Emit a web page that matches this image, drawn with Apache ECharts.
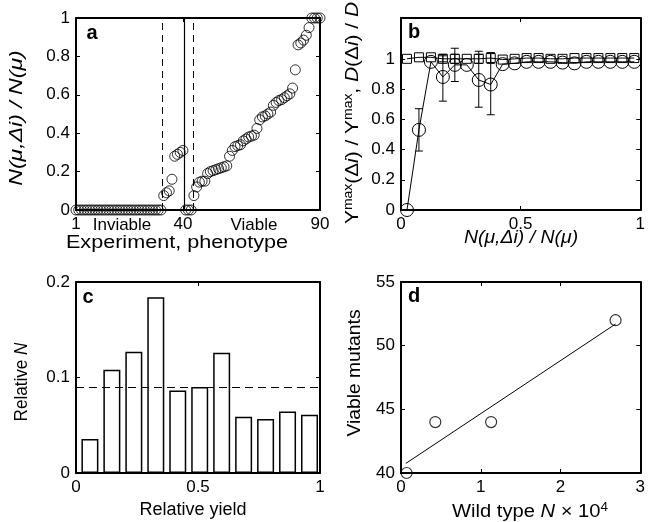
<!DOCTYPE html>
<html><head><meta charset="utf-8">
<script src="https://cdn.jsdelivr.net/npm/echarts@6/dist/echarts.min.js"></script>
<style>html,body{margin:0;padding:0;background:#fff}#c{width:648px;height:522px}</style>
</head><body><div id="c"></div>
<script>
const FONT = "'Liberation Sans', Arial, Helvetica, sans-serif";

// ---------- Panel a: N(mu,Δi)/N(mu) per experiment (sorted) ----------
const aInviable = [0,0,0,0,0,0,0,0,0,0,0,0,0,0,0,0,0,0,0,0,0,0,0,0,0,0,0,0,0,0,0,0]; // experiments 1-32
const aLow = [0.075,0.09,0.10,0.16,0.28,0.29,0.30,0.31];                                // experiments 33-40
const aZeroMid = [0,0,0];                                                               // experiments 41-43
const aViable = [0.075,0.12,0.145,0.15,0.15,0.19,0.20,0.205,0.21,0.215,0.22,0.225,0.23,0.28,0.31,0.33,
  0.335,0.34,0.36,0.37,0.38,0.385,0.39,0.425,0.47,0.485,0.49,0.50,0.51,0.545,0.56,0.57,0.575,0.585,
  0.595,0.605,0.635,0.73,0.86,0.87,0.885,0.91,0.95,1.0,1.0,1.0,1.0];                     // experiments 44-90
const aXTicks = [1, 40, 90];
const aDashedLines = [32.6, 43.6];
const aSolidLine = [40.5];

// ---------- Panel b ----------
const bX = [0.025,0.075,0.125,0.175,0.225,0.275,0.325,0.375,0.425,0.475,0.525,0.575,0.625,0.675,0.725,0.775,0.825,0.875,0.925,0.975];
const bYield = [0,0.53,0.98,0.88,0.96,0.96,0.86,0.83,0.965,0.97,0.98,0.98,0.98,0.975,0.97,0.98,0.98,0.98,0.98,0.98];
const bYieldLo = [null,0.39,null,0.72,0.85,null,0.68,0.63,null,null,null,null,null,null,null,null,null,null,null,null];
const bYieldHi = [null,0.67,null,1.03,1.07,null,1.05,1.04,null,null,null,null,null,null,null,null,null,null,null,null];
const bDiv = [1.0,1.01,1.01,1.0,1.0,1.0,1.0,1.005,0.995,1.0,1.005,1.005,1.0,1.0,1.005,1.005,1.005,1.005,1.005,1.005];
const bDivLo = [null,null,null,0.98,0.97,null,0.97,0.97,null,null,null,null,null,null,null,null,null,null,null,null];
const bDivHi = [null,null,null,1.02,1.03,null,1.03,1.04,null,null,null,null,null,null,null,null,null,null,null,null];
const bYTicks = [0,0.2,0.4,0.6,0.8,1];

// ---------- Panel c ----------
const cCenters = [0.057,0.147,0.237,0.327,0.417,0.507,0.597,0.687,0.777,0.867,0.957];
const cHeights = [0.0355,0.108,0.127,0.184,0.0865,0.090,0.126,0.059,0.0565,0.0645,0.061];
const cUniform = [0.0909];

// ---------- Panel d ----------
const dWild = [0.07,0.43,1.13,2.69];
const dViable = [40,44,44,52];
const dFitX = [0.06,2.69];
const dFitY = [40.75,51.7];

// ---------- build ----------
const aValues = [].concat(aInviable, aLow, aZeroMid, aViable);
const aData = aValues.map((v,i)=>[i+1, v]);
const CLEAR = 'rgba(0,0,0,0)';

const axLine = {show:true, onZero:false, lineStyle:{color:'#000', width:2}};
const axTick = {show:true, inside:true, length:4, lineStyle:{color:'#000', width:1}};
const axLabel = {color:'#000', fontSize:17, fontFamily:FONT, margin:6};
function ax(gi, pos, min, max, extra, showLabel){
  const o = {type:'value', gridIndex:gi, position:pos, min:min, max:max,
    axisLine:axLine, axisTick:Object.assign({}, axTick),
    axisLabel:Object.assign({}, axLabel, {show:showLabel}),
    splitLine:{show:false}};
  if (extra) {
    if (extra.interval!==undefined) o.interval = extra.interval;
    if (extra.custom) { o.axisLabel.customValues = extra.custom; o.axisTick.customValues = extra.custom; }
  }
  return o;
}

const grids = [
  {left:76, top:18, width:244, height:192},
  {left:401, top:18, width:244, height:192},
  {left:76, top:282, width:244, height:191},
  {left:401, top:282, width:244, height:191}
];
const xAxes = [
  ax(0,'bottom',1,90,{custom:aXTicks},true),
  ax(1,'bottom',0,1,{interval:0.5},true),
  ax(2,'bottom',0,1,{interval:0.5},true),
  ax(3,'bottom',0,3,{interval:1},true),
  ax(0,'top',1,90,{custom:aXTicks},false),
  ax(1,'top',0,1,{interval:0.5},false),
  ax(2,'top',0,1,{interval:0.5},false),
  ax(3,'top',0,3,{interval:1},false)
];
const yAxes = [
  ax(0,'left',0,1,{interval:0.2},true),
  ax(1,'left',0,1.27,{custom:bYTicks},true),
  ax(2,'left',0,0.2,{interval:0.1},true),
  ax(3,'left',40,55,{interval:5},true),
  ax(0,'right',0,1,{interval:0.2},false),
  ax(1,'right',0,1.27,{custom:bYTicks},false),
  ax(2,'right',0,0.2,{interval:0.1},false),
  ax(3,'right',40,55,{interval:5},false)
];

function errRender(params, api){
  const x = api.value(0), lo = api.value(1), hi = api.value(2);
  const p1 = api.coord([x, lo]), p2 = api.coord([x, hi]);
  const w = 4, st = {stroke:'#000', lineWidth:1};
  return {type:'group', children:[
    {type:'line', shape:{x1:p1[0],y1:p1[1],x2:p2[0],y2:p2[1]}, style:st},
    {type:'line', shape:{x1:p1[0]-w,y1:p1[1],x2:p1[0]+w,y2:p1[1]}, style:st},
    {type:'line', shape:{x1:p2[0]-w,y1:p2[1],x2:p2[0]+w,y2:p2[1]}, style:st}
  ]};
}
function errData(xs, lo, hi){
  const out = [];
  xs.forEach((x,i)=>{ if (lo[i]!==null) out.push([x, lo[i], hi[i]]); });
  return out;
}

const series = [
  {type:'scatter', xAxisIndex:0, yAxisIndex:0, data:aData, symbol:'circle', symbolSize:10, clip:false,
   itemStyle:{color:CLEAR, borderColor:'#000', borderWidth:1},
   markLine:{silent:true, symbol:'none', label:{show:false},
     data:[
       {xAxis:aDashedLines[0], lineStyle:{type:[7,5], color:'#000', width:1}},
       {xAxis:aSolidLine[0], lineStyle:{type:'solid', color:'#000', width:1.2}},
       {xAxis:aDashedLines[1], lineStyle:{type:[7,5], color:'#000', width:1}}
     ]}},
  {type:'custom', xAxisIndex:1, yAxisIndex:1, renderItem:errRender, encode:{x:0, y:[1,2]}, data:errData(bX,bYieldLo,bYieldHi), clip:false, z:3},
  {type:'custom', xAxisIndex:1, yAxisIndex:1, renderItem:errRender, encode:{x:0, y:[1,2]}, data:errData(bX,bDivLo,bDivHi), clip:false, z:3},
  {type:'line', xAxisIndex:1, yAxisIndex:1, data:bX.map((x,i)=>[x,bDiv[i]]), symbol:'rect', symbolSize:9, clip:false,
   lineStyle:{color:'#000', width:1}, itemStyle:{color:CLEAR, borderColor:'#000', borderWidth:1}, z:4},
  {type:'line', xAxisIndex:1, yAxisIndex:1, data:bX.map((x,i)=>[x,bYield[i]]), symbol:'circle', symbolSize:13, clip:false,
   lineStyle:{color:'#000', width:1}, itemStyle:{color:CLEAR, borderColor:'#000', borderWidth:1}, z:5},
  {type:'bar', xAxisIndex:2, yAxisIndex:2, data:cCenters.map((x,i)=>[x,cHeights[i]]), barWidth:17,
   itemStyle:{color:'#fff', borderColor:'#000', borderWidth:1.5},
   markLine:{silent:true, symbol:'none', label:{show:false},
     data:[{yAxis:cUniform[0], lineStyle:{type:[8,5], color:'#000', width:1.2}}]}},
  {type:'line', xAxisIndex:3, yAxisIndex:3, data:dFitX.map((x,i)=>[x,dFitY[i]]), symbol:'none',
   lineStyle:{color:'#000', width:1}},
  {type:'scatter', xAxisIndex:3, yAxisIndex:3, data:dWild.map((x,i)=>[x,dViable[i]]), symbol:'circle', symbolSize:11, clip:false,
   itemStyle:{color:CLEAR, borderColor:'#000', borderWidth:1.2}, z:5}
];

const NS = 18;
function t(text, x, y, opts){
  opts = opts || {};
  const sz = opts.size||NS;
  const base = {fontSize:sz, fontFamily:FONT, fill:'#000', fontStyle:opts.italic?'italic':'normal', fontWeight:opts.bold?'bold':'normal'};
  const rich = {
    it:{fontSize:sz, fontFamily:FONT, fontStyle:'italic', fill:'#000'},
    n:{fontSize:sz, fontFamily:FONT, fontStyle:'normal', fill:'#000'},
    sup:{fontSize:12, fontFamily:FONT, fontStyle:'normal', fill:'#000', verticalAlign:'top', padding:[0,0,9,0]}
  };
  return {type:'text', x:x, y:y, rotation:opts.rot?Math.PI/2:0, scaleX:opts.sx||1, silent:true, z:100,
    style:Object.assign({text:text, align:'center', verticalAlign:'middle', rich:rich}, base)};
}
const graphics = [
  t('a', 92, 33, {bold:true, size:20}),
  t('b', 414, 32, {bold:true, size:20}),
  t('c', 88, 297, {bold:true, size:20}),
  t('d', 414, 296, {bold:true, size:20}),
  t('N(μ,Δi) / N(μ)', 17, 118, {rot:true, italic:true, sx:1.28}),
  t('Experiment, phenotype', 177, 243, {sx:1.2}),
  t('Inviable', 122, 225, {size:17}),
  t('Viable', 254, 225, {size:17}),
  t('Y{sup|max}(Δ{it|i}) / Y{sup|max}, {it|D}(Δ{it|i}) / {it|D}', 353, 113, {rot:true, sx:1.16}),
  t('N(μ,Δi) / N(μ)', 521, 238, {italic:true, sx:1.08}),
  t('Relative {it|N}', 22, 382, {rot:true, sx:0.95}),
  t('Relative yield', 193, 510),
  t('Viable mutants', 355, 373, {rot:true, sx:1.07}),
  t('Wild type {it|N} × 10{sup|4}', 530, 512, {sx:1.12})
];

const chart = echarts.init(document.getElementById('c'), null, {renderer:'canvas'});
chart.setOption({
  animation:false,
  backgroundColor:'#fff',
  textStyle:{fontFamily:FONT},
  grid:grids, xAxis:xAxes, yAxis:yAxes, series:series, graphic:graphics
});
</script></body></html>
